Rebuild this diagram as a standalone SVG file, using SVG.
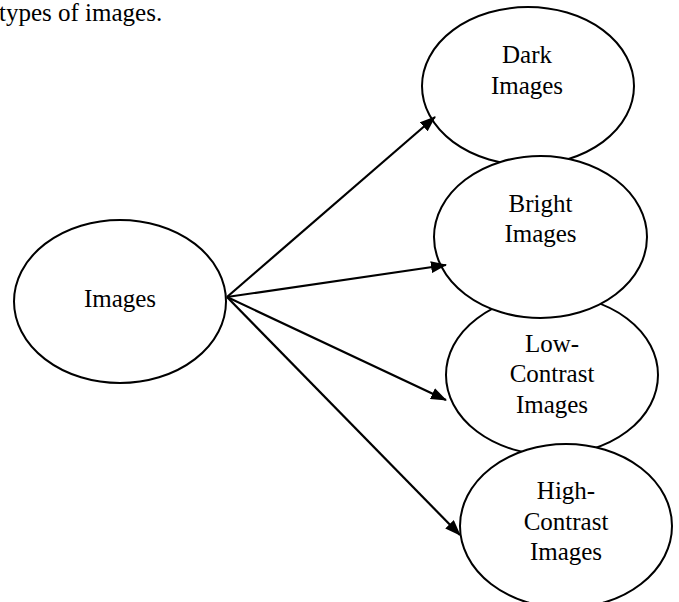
<svg xmlns="http://www.w3.org/2000/svg" width="679" height="602" viewBox="0 0 679 602">
<style>
.node ellipse{fill:#fff;stroke:#000;stroke-width:2}
text{font-family:"Liberation Serif","Times New Roman",serif;font-size:25px;fill:#000}
.node text{text-anchor:middle}
.edge{stroke:#000;stroke-width:2.2;fill:none;marker-end:url(#ah)}
</style>
<defs>
<marker id="ah" markerUnits="userSpaceOnUse" markerWidth="16" markerHeight="12" refX="15" refY="6" orient="auto">
<path d="M0,0 L16,6 L0,12 Z" fill="#000"/>
</marker>
</defs>
<rect width="679" height="602" fill="#fff"/>
<text x="-1" y="21">types of images.</text>
<g id="n-images" class="node">
<ellipse cx="120" cy="301.5" rx="106" ry="81.5"/>
<text x="120" y="307">Images</text>
</g>
<g id="n-dark" class="node">
<ellipse cx="528" cy="86" rx="106" ry="79"/>
<text x="527" y="63">Dark</text>
<text x="527" y="94">Images</text>
</g>
<g id="n-low" class="node">
<ellipse cx="552" cy="375" rx="106" ry="80"/>
<text x="552" y="352">Low-</text>
<text x="552" y="382">Contrast</text>
<text x="552" y="413">Images</text>
</g>
<g id="n-bright" class="node">
<ellipse cx="540.5" cy="237" rx="106.5" ry="81"/>
<text x="540.5" y="212">Bright</text>
<text x="540.5" y="242">Images</text>
</g>
<g id="n-high" class="node">
<ellipse cx="566" cy="526" rx="106" ry="82"/>
<text x="566" y="499">High-</text>
<text x="566" y="530">Contrast</text>
<text x="566" y="560">Images</text>
</g>
<g id="connectors">
<line class="edge" x1="227" y1="297" x2="435" y2="117"/>
<line class="edge" x1="227" y1="297" x2="446" y2="265"/>
<line class="edge" x1="227" y1="297" x2="446" y2="400"/>
<line class="edge" x1="227" y1="297" x2="460" y2="535"/>
</g>
</svg>
